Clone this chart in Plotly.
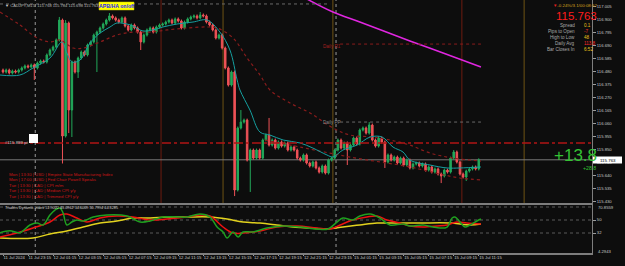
import plotly.graph_objects as go

W, H = 625, 266
FONT = "Liberation Sans, Arial, sans-serif"
BG = "#0d0d0d"
GREEN = "#22a85a"
RED = "#ef5257"

# ---------------- data ----------------
bar_index = list(range(153))
opens = [116.488, 116.472, 116.488, 116.464, 116.480, 116.472, 116.488, 116.505, 116.521, 116.513,
         116.529, 116.505, 116.545, 116.561, 116.553, 116.610, 116.650, 116.674, 116.731, 116.892,
         115.955, 116.868, 116.165, 116.553, 116.472, 116.585, 116.634, 116.610, 116.690, 116.715,
         116.771, 116.795, 116.828, 116.860, 116.892, 116.925, 116.909, 116.892, 116.876, 116.909,
         116.844, 116.812, 116.852, 116.828, 116.795, 116.715, 116.771, 116.812, 116.828, 116.795,
         116.836, 116.852, 116.860, 116.876, 116.892, 116.868, 116.901, 116.884, 116.828, 116.876,
         116.901, 116.917, 116.925, 116.909, 116.933, 116.925, 116.876, 116.852, 116.812, 116.747,
         116.771, 116.666, 116.505, 116.367, 116.472, 115.519, 116.020, 116.068, 116.084, 115.761,
         115.842, 115.777, 115.842, 115.777, 115.923, 115.963, 115.882, 115.923, 115.858, 115.907,
         115.874, 115.899, 115.842, 115.866, 115.842, 115.777, 115.761, 115.802, 115.737, 115.713,
         115.745, 115.697, 115.664, 115.713, 115.656, 115.761, 115.777, 115.842, 115.923, 115.858,
         115.899, 115.842, 115.882, 115.939, 115.891, 116.004, 116.020, 115.979, 116.044, 115.923,
         115.874, 115.939, 115.907, 115.745, 115.802, 115.761, 115.785, 115.737, 115.777, 115.721,
         115.761, 115.697, 115.729, 115.737, 115.713, 115.729, 115.680, 115.705, 115.664, 115.689,
         115.648, 115.632, 115.680, 115.664, 115.777, 115.826, 115.745, 115.648, 115.624, 115.672,
         115.689, 115.705, 115.689]
closes = [116.472, 116.488, 116.464, 116.480, 116.472, 116.488, 116.505, 116.521, 116.513, 116.529,
          116.505, 116.545, 116.561, 116.553, 116.610, 116.650, 116.674, 116.731, 116.892, 115.955,
          116.868, 116.165, 116.553, 116.472, 116.585, 116.634, 116.610, 116.690, 116.715, 116.771,
          116.795, 116.828, 116.860, 116.892, 116.925, 116.909, 116.892, 116.876, 116.909, 116.844,
          116.812, 116.852, 116.828, 116.795, 116.715, 116.771, 116.812, 116.828, 116.795, 116.836,
          116.852, 116.860, 116.876, 116.892, 116.868, 116.901, 116.884, 116.828, 116.876, 116.901,
          116.917, 116.925, 116.909, 116.933, 116.925, 116.876, 116.852, 116.812, 116.747, 116.771,
          116.666, 116.505, 116.367, 116.472, 115.519, 116.020, 116.068, 116.084, 115.761, 115.842,
          115.777, 115.842, 115.777, 115.923, 115.963, 115.882, 115.923, 115.858, 115.907, 115.874,
          115.899, 115.842, 115.866, 115.842, 115.777, 115.761, 115.802, 115.737, 115.713, 115.745,
          115.697, 115.664, 115.713, 115.656, 115.761, 115.777, 115.842, 115.923, 115.858, 115.899,
          115.842, 115.882, 115.939, 115.891, 116.004, 116.020, 115.979, 116.044, 115.923, 115.874,
          115.939, 115.907, 115.745, 115.802, 115.761, 115.785, 115.737, 115.777, 115.721, 115.761,
          115.697, 115.729, 115.737, 115.713, 115.729, 115.680, 115.705, 115.664, 115.689, 115.648,
          115.632, 115.680, 115.664, 115.777, 115.826, 115.745, 115.648, 115.624, 115.672, 115.689,
          115.705, 115.689, 115.763]
highs = [116.500, 116.500, 116.500, 116.492, 116.492, 116.500, 116.517, 116.533, 116.533, 116.541,
         116.541, 116.557, 116.573, 116.573, 116.622, 116.662, 116.686, 116.743, 116.917, 116.904,
         116.892, 116.880, 116.565, 116.565, 116.597, 116.646, 116.646, 116.702, 116.727, 116.783,
         116.807, 116.840, 116.872, 116.904, 116.949, 116.937, 116.921, 116.904, 116.921, 116.921,
         116.856, 116.864, 116.864, 116.840, 116.807, 116.783, 116.824, 116.840, 116.840, 116.848,
         116.864, 116.872, 116.888, 116.904, 116.904, 116.913, 116.913, 116.896, 116.888, 116.913,
         116.929, 116.937, 116.937, 116.957, 116.945, 116.937, 116.888, 116.864, 116.824, 116.783,
         116.783, 116.678, 116.517, 116.484, 116.484, 116.032, 116.165, 116.096, 116.096, 115.854,
         115.854, 115.854, 115.854, 115.935, 115.975, 116.101, 115.935, 115.935, 115.919, 115.919,
         115.911, 115.911, 115.878, 115.878, 115.854, 115.789, 115.814, 115.814, 115.749, 115.757,
         115.757, 115.709, 115.725, 115.725, 115.773, 115.789, 115.854, 115.935, 115.935, 115.911,
         115.911, 115.894, 115.951, 115.951, 116.016, 116.032, 116.032, 116.068, 116.056, 115.935,
         115.951, 115.951, 115.919, 115.814, 115.814, 115.797, 115.797, 115.789, 115.789, 115.773,
         115.773, 115.741, 115.749, 115.749, 115.741, 115.741, 115.717, 115.717, 115.701, 115.701,
         115.660, 115.692, 115.692, 115.789, 115.842, 115.838, 115.757, 115.660, 115.684, 115.701,
         115.717, 115.717, 115.775]
lows = [116.460, 116.460, 116.452, 116.452, 116.460, 116.460, 116.476, 116.493, 116.501, 116.501,
        116.408, 116.493, 116.533, 116.541, 116.541, 116.598, 116.638, 116.662, 116.719, 115.733,
        115.943, 115.979, 115.947, 116.460, 116.424, 116.573, 116.598, 116.598, 116.678, 116.703,
        116.472, 116.783, 116.816, 116.848, 116.880, 116.897, 116.880, 116.864, 116.864, 116.832,
        116.800, 116.800, 116.816, 116.783, 116.650, 116.703, 116.759, 116.800, 116.783, 116.783,
        116.824, 116.840, 116.848, 116.864, 116.856, 116.856, 116.872, 116.816, 116.816, 116.864,
        116.889, 116.905, 116.897, 116.897, 116.913, 116.864, 116.840, 116.800, 116.735, 116.735,
        116.654, 116.493, 116.355, 116.355, 115.470, 115.507, 116.008, 116.056, 115.749, 115.503,
        115.765, 115.765, 115.765, 115.765, 115.911, 115.870, 115.870, 115.846, 115.846, 115.862,
        115.862, 115.830, 115.830, 115.830, 115.765, 115.749, 115.749, 115.725, 115.701, 115.701,
        115.685, 115.652, 115.652, 115.644, 115.644, 115.749, 115.765, 115.830, 115.846, 115.846,
        115.721, 115.830, 115.870, 115.879, 115.879, 115.992, 115.967, 115.967, 115.911, 115.862,
        115.862, 115.895, 115.697, 115.733, 115.749, 115.749, 115.725, 115.725, 115.709, 115.709,
        115.685, 115.685, 115.717, 115.701, 115.701, 115.668, 115.668, 115.652, 115.652, 115.636,
        115.575, 115.620, 115.652, 115.652, 115.765, 115.733, 115.636, 115.612, 115.592, 115.660,
        115.677, 115.677, 115.677]

# fast MA (teal)
fast_ma_bars = [-1, 5.4, 9.6, 15, 18.8, 20.4, 22, 24.6, 27.8, 31, 34.2, 36.4, 39.6, 41.5, 44.7, 47.9,
                51.1, 55.6, 60.7, 65.2, 69.3, 72.5, 74.8, 75.7, 78.9, 82.1, 85.3, 89.5, 94.9, 99,
                103.5, 105.4, 108.6, 113.1, 117.3, 121.1, 124.6, 127.8, 130, 136.4, 141.9, 146, 152.7]
fast_ma = [116.448, 116.448, 116.505, 116.585, 116.715, 116.626, 116.553, 116.569, 116.707, 116.787,
           116.836, 116.868, 116.860, 116.844, 116.804, 116.812, 116.836, 116.860, 116.876, 116.892,
           116.795, 116.650, 116.408, 116.327, 116.165, 115.987, 115.963, 115.923, 115.899, 115.858,
           115.802, 115.786, 115.842, 115.882, 115.947, 115.947, 115.866, 115.826, 115.761, 115.721,
           115.697, 115.697, 115.705]
# slow MA (dark red dotted)
slow_ma_bars = [-1, 5.4, 10.9, 15, 18.2, 22.4, 25.6, 31, 36.4, 41.5, 47, 52.4, 58.8, 65.2, 68.4, 73.5,
                78, 82.1, 85.3, 91.7, 98.1, 105.4, 110.9, 118.2, 123.6, 130, 136.4, 143.8, 152.7]
slow_ma = [116.957, 116.852, 116.747, 116.715, 116.731, 116.666, 116.666, 116.715, 116.771, 116.795,
           116.795, 116.812, 116.828, 116.836, 116.828, 116.747, 116.585, 116.448, 116.327, 116.222,
           116.141, 116.020, 115.963, 115.947, 115.923, 115.882, 115.818, 115.777, 115.753]
# lower dotted band
lower_band_bars = [83.7, 94.9, 110.9, 130, 139.6, 146, 152.7]
lower_band = [115.923, 115.866, 115.785, 115.705, 115.648, 115.616, 115.600]
# higher-timeframe MA (magenta)
htf_ma_bars = [96.5, 105.4, 114, 130, 140.6, 152.7]
htf_ma = [117.070, 116.957, 116.876, 116.723, 116.626, 116.513]

# Traders Dynamic Index
tdi_green_bars = [-1, 2.2, 5.4, 8.6, 10.9, 12.8, 15, 16.6, 18.2, 19.2, 20.4, 22, 23.6, 25.6, 28.8, 33.2,
                  39.6, 43.8, 47, 51.1, 55.6, 58.8, 62.9, 66.1, 68.4, 70.3, 71.6, 73.5, 75.1, 76.7,
                  79.9, 84.3, 89.5, 94.9, 100.3, 103.8, 106.7, 108.6, 111.8, 114, 117.3, 120.4, 123.6,
                  127.8, 130, 134.2, 137.4, 139.6, 141.9, 143.5, 144.4, 146, 147.6, 149.2, 151.4, 152.7]
tdi_green = [32.4, 35.2, 32.4, 43.1, 45.8, 43.1, 56.9, 63.8, 66.6, 59.7, 43.1, 47.2, 50.0, 48.6, 54.2,
             56.9, 55.5, 47.2, 48.6, 54.2, 54.2, 54.2, 58.3, 54.2, 40.3, 33.4, 25.1, 33.4, 26.5, 33.4,
             33.4, 38.9, 41.7, 40.3, 37.5, 37.5, 47.2, 52.8, 50.0, 55.5, 58.3, 52.8, 43.1, 44.5, 41.7,
             43.1, 40.3, 38.9, 40.3, 52.8, 54.2, 47.2, 40.3, 43.1, 48.6, 51.4]
tdi_red_bars = [-1, 4.5, 9.6, 15, 18.2, 20.4, 23.6, 26.8, 31, 36.4, 41.5, 47, 52.4, 58.8, 62.9, 66.1,
                70.3, 73.5, 76.7, 82.1, 87.5, 93.9, 100.3, 104.5, 107.7, 111.8, 116.3, 119.5, 122.7,
                126.8, 130, 134.2, 138.7, 141.9, 145, 148.2, 152.7]
tdi_red = [26.5, 32.0, 38.9, 47.2, 56.9, 58.3, 52.8, 47.2, 52.8, 55.5, 54.2, 50.0, 51.4, 54.2, 56.9,
           55.5, 40.3, 32.0, 32.0, 34.8, 40.3, 41.7, 38.9, 37.5, 43.1, 50.0, 54.2, 55.5, 50.0, 45.8,
           41.7, 40.3, 41.7, 43.1, 47.2, 45.8, 44.5]
tdi_yellow_bars = [-1, 9.6, 15, 20.4, 25.6, 31, 36.4, 41.5, 47, 52.4, 58.8, 66.1, 71.6, 76.7, 82.1,
                   87.5, 92.7, 98.1, 103.5, 108.6, 114, 119.5, 124.6, 133.2, 142.8, 149.2, 152.7]
tdi_yellow = [25.1, 25.1, 30.6, 34.8, 40.3, 45.8, 48.6, 52.8, 52.8, 54.2, 54.2, 54.2, 51.4, 47.2, 45.8,
              43.1, 40.3, 38.9, 37.5, 40.3, 43.1, 45.8, 45.8, 45.8, 45.8, 43.1, 44.5]
tdi_levels = [68, 50, 32]

tick_bars = [0, 8, 16, 24, 32, 40, 48, 56, 64, 72, 80, 88, 96, 104, 112, 120, 128, 136, 144, 152]
tick_labels = ["11 Jul 2024", "11 Jul 23:15", "12 Jul 01:15", "12 Jul 03:15", "12 Jul 05:15",
               "12 Jul 07:15", "12 Jul 09:15", "12 Jul 11:15", "12 Jul 13:15", "12 Jul 15:15",
               "12 Jul 17:15", "12 Jul 19:15", "12 Jul 21:15", "12 Jul 23:15", "15 Jul 01:15",
               "15 Jul 03:15", "15 Jul 05:15", "15 Jul 07:15", "15 Jul 09:15", "15 Jul 11:15"]
price_ticks = [117.005, 116.900, 116.795, 116.690, 116.585, 116.480, 116.375, 116.270, 116.165,
               116.060, 115.955, 115.850, 115.745, 115.640, 115.535, 115.430]

day_sep_bars = [10.3, 106.4]
event_red_bars = [50.5, 146.6]
event_gold_bars = [70.3, 105.4, 166.5]

bid_price = 115.763
alert_price = 115.899
daily_r1 = 116.698
daily_pp = 116.068
session_high = 117.022
pivot_start_bar = 107.7

events = ["Mon | 13:30 | USD | Empire State Manufacturing Index",
          "Mon | 17:00 | USD | Fed Chair Powell Speaks",
          "Tue | 13:30 | CAD | CPI m/m",
          "Tue | 13:30 | CAD | Median CPI y/y",
          "Tue | 13:30 | CAD | Trimmed CPI y/y"]
info_labels = ["Spread", "Pips to Open", "High to Low", "Daily Avg", "Bar Closes In"]
info_values = ["0.1", "-7", "48", "113.8", "6:52"]
info_colors = ["#e8c21a", "#ff2a2a", "#e8c21a", "#ff2a2a", "#e8c21a"]

# ---------------- figure ----------------
XR = [-0.958, 188.18]
XD = [0, 592 / W]


def px(x):
    return x / W


def py(y):
    return 1 - y / H


fig = go.Figure()

fig.add_trace(go.Candlestick(
    x=bar_index, open=opens, high=highs, low=lows, close=closes,
    increasing=dict(line=dict(color=GREEN, width=1), fillcolor=GREEN),
    decreasing=dict(line=dict(color=RED, width=1), fillcolor=RED),
    whiskerwidth=0, hoverinfo="skip", xaxis="x", yaxis="y"))

fig.add_trace(go.Scatter(x=slow_ma_bars, y=slow_ma, mode="lines", line_shape="spline",
                         line=dict(color="#8a1c1c", width=1.2, dash="dot"), xaxis="x", yaxis="y"))
fig.add_trace(go.Scatter(x=lower_band_bars, y=lower_band, mode="lines", line_shape="spline",
                         line=dict(color="#8a1c1c", width=1.2, dash="dot"), xaxis="x", yaxis="y"))
fig.add_trace(go.Scatter(x=fast_ma_bars, y=fast_ma, mode="lines", line_shape="spline",
                         line=dict(color="#15a0a0", width=1), xaxis="x", yaxis="y"))
fig.add_trace(go.Scatter(x=htf_ma_bars, y=htf_ma, mode="lines", line_shape="spline",
                         line=dict(color="#e026e0", width=1.5), xaxis="x", yaxis="y"))

fig.add_trace(go.Scatter(x=tdi_yellow_bars, y=tdi_yellow, mode="lines", line_shape="spline",
                         line=dict(color="#e2d21e", width=1.5), xaxis="x2", yaxis="y2"))
fig.add_trace(go.Scatter(x=tdi_red_bars, y=tdi_red, mode="lines", line_shape="spline",
                         line=dict(color="#ee1111", width=1.5), xaxis="x2", yaxis="y2"))
fig.add_trace(go.Scatter(x=tdi_green_bars, y=tdi_green, mode="lines", line_shape="spline",
                         line=dict(color="#1fa01f", width=1.5), xaxis="x2", yaxis="y2"))

shapes = []
# vertical event / session lines (main panel)
for b in event_red_bars:
    shapes.append(dict(type="line", xref="x", yref="y domain", x0=b, x1=b, y0=0, y1=1,
                       line=dict(color="#6e1c10", width=1), layer="below"))
for b in event_gold_bars:
    shapes.append(dict(type="line", xref="x", yref="y domain", x0=b, x1=b, y0=0, y1=1,
                       line=dict(color="#6e5314", width=1), layer="below"))
for b in day_sep_bars:
    shapes.append(dict(type="line", xref="x", yref="paper", x0=b, x1=b, y0=py(253), y1=1,
                       line=dict(color="#9a9a9a", width=1, dash="dot"), layer="below"))
# horizontal lines
shapes.append(dict(type="line", xref="paper", yref="y", x0=0, x1=XD[1], y0=bid_price, y1=bid_price,
                   line=dict(color="#7a7a7a", width=1), layer="below"))
shapes.append(dict(type="line", xref="paper", yref="y", x0=0, x1=XD[1], y0=alert_price, y1=alert_price,
                   line=dict(color="#b01414", width=1.5, dash="dashdot")))
shapes.append(dict(type="line", xref="x", yref="y", x0=XR[0], x1=104.5, y0=session_high, y1=session_high,
                   line=dict(color="#6a6a6a", width=1, dash="dot")))
shapes.append(dict(type="line", xref="x", yref="y", x0=pivot_start_bar, x1=152.7, y0=daily_r1, y1=daily_r1,
                   line=dict(color="#8a1c1c", width=1, dash="dot")))
shapes.append(dict(type="line", xref="x", yref="y", x0=pivot_start_bar, x1=152.7, y0=daily_pp, y1=daily_pp,
                   line=dict(color="#6a6a6a", width=1, dash="dot")))
# TDI levels
for lv in tdi_levels:
    shapes.append(dict(type="line", xref="paper", yref="y2", x0=0, x1=XD[1], y0=lv, y1=lv,
                       line=dict(color="#5a5a5a", width=1, dash="dot"), layer="below"))
# panel separators and right border
shapes.append(dict(type="rect", xref="paper", yref="paper", x0=0, x1=px(592), y0=py(205), y1=py(203),
                   fillcolor="#7d7d7d", line=dict(width=0)))
shapes.append(dict(type="rect", xref="paper", yref="paper", x0=0, x1=px(592), y0=py(255), y1=py(253),
                   fillcolor="#7d7d7d", line=dict(width=0)))
shapes.append(dict(type="line", xref="paper", yref="paper", x0=px(592.5), x1=px(592.5), y0=py(255), y1=1,
                   line=dict(color="#7d7d7d", width=1)))
# button and marker boxes
shapes.append(dict(type="rect", xref="paper", yref="paper", x0=px(99), x1=px(134), y0=py(10), y1=py(2),
                   fillcolor="#ffff00", line=dict(color="#c8c800", width=0.5)))
shapes.append(dict(type="rect", xref="paper", yref="paper", x0=px(29), x1=px(38), y0=py(143), y1=py(134),
                   fillcolor="#ffffff", line=dict(width=0)))
shapes.append(dict(type="rect", xref="paper", yref="paper", x0=px(593), x1=px(622), y0=py(163.5), y1=py(156.5),
                   fillcolor="#ffffff", line=dict(width=0)))

ann = []


def add(x, y, text, size, color, xanchor="left", **kw):
    ann.append(dict(x=px(x), y=py(y), xref="paper", yref="paper", text=text, showarrow=False,
                    xanchor=xanchor, yanchor="middle", font=dict(size=size, color=color, family=FONT), **kw))


add(3, 5, "<span style='color:#cccccc'>▼</span> CADJPY,M15  115.768 115.784 115.698 115.763", 4.1, "#b8b8b8")
add(116.5, 6, "<b>APB/HA on/off</b>", 5.2, "#1a1aff", xanchor="center")
add(343, 47, "Daily R1", 4.6, "#a02020", xanchor="right")
add(343, 122.5, "Daily PP", 4.6, "#8c8c8c", xanchor="right")
add(3, 142, "#115.899 pt", 4.4, "#c8c8c8")
for k, line in enumerate(events):
    add(7, 174 + k * 5.6, line, 4.3, "#cc1616")
add(3, 207.5, "Traders Dynamic Index 51.9022 43.0962 34.6009 50.7994 44.3285", 3.8, "#d0d0d0")

add(599, 6, "<span style='color:#e02020'>▼</span>-0.24%/3.1/00:08:52", 4.4, "#d8a21c", xanchor="right")
add(599, 15.5, "115.763", 11.5, "#ff1c1c", xanchor="right")
for k, (lab, val, col) in enumerate(zip(info_labels, info_values, info_colors)):
    add(577, 25.5 + k * 6, lab, 4.6, "#a8a8a8", xanchor="right")
    add(582, 25.5 + k * 6, val, 4.6, col)
add(599, 155, "+13.8", 17, "#34c234", xanchor="right")
add(598, 168, "+28.8", 5.2, "#34c234", xanchor="right")
add(607.5, 160, "115.763", 4.4, "#000000", xanchor="center")
add(596, 207.5, "70.8559", 4.2, "#c8c8c8")
add(596, 251, "4.2943", 4.2, "#c8c8c8")

fig.update_layout(
    width=W, height=H, margin=dict(l=0, r=0, t=0, b=0),
    paper_bgcolor=BG, plot_bgcolor=BG, showlegend=False,
    font=dict(family=FONT, color="#c8c8c8"),
    shapes=shapes, annotations=ann,
    xaxis=dict(domain=XD, range=XR, anchor="y", showticklabels=False, showgrid=False, zeroline=False,
               rangeslider=dict(visible=False), fixedrange=True),
    xaxis2=dict(domain=XD, range=XR, anchor="y2", showgrid=False, zeroline=False,
                tickvals=tick_bars, ticktext=tick_labels, ticks="outside", ticklen=2, tickcolor="#9a9a9a",
                ticklabelposition="outside right", tickangle=0,
                tickfont=dict(size=4.2, color="#c8c8c8", family=FONT), fixedrange=True),
    yaxis=dict(domain=[py(203), 1], range=[115.414, 117.054], side="right", anchor="x",
               tickvals=price_ticks, ticktext=[f"{v:.3f}" for v in price_ticks],
               ticks="outside", ticklen=3, tickcolor="#9a9a9a", showgrid=False, zeroline=False,
               tickfont=dict(size=4.2, color="#c8c8c8", family=FONT), fixedrange=True),
    yaxis2=dict(domain=[py(253), py(205)], range=[4.31, 70.77], side="right", anchor="x2",
                tickvals=[50, 32], ticktext=["50", "32"], ticks="outside", ticklen=3, tickcolor="#9a9a9a",
                showgrid=False, zeroline=False,
                tickfont=dict(size=4.2, color="#c8c8c8", family=FONT), fixedrange=True),
)

fig.write_html("out.html")
